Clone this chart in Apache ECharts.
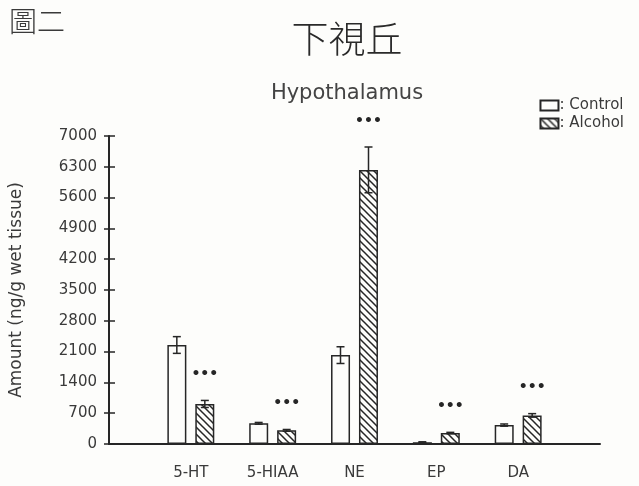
<!DOCTYPE html>
<html>
<head>
<meta charset="utf-8">
<script src="https://cdn.jsdelivr.net/npm/echarts@6/dist/echarts.min.js"></script>
<style>
  html, body { margin: 0; padding: 0; background: #fdfdfb; }
  #chart { width: 639px; height: 486px; }
</style>
</head>
<body>
<div id="chart"></div>
<script>
// Monoamine levels in the hypothalamus (ng/g wet tissue), mean ± SE
const categories = ['5-HT', '5-HIAA', 'NE', 'EP', 'DA'];
const controlMean = [2250, 470, 2020, 40, 430];
const controlSE = [190, 20, 190, 10, 25];
const alcoholMean = [910, 310, 6230, 250, 650];
const alcoholSE = [80, 20, 520, 15, 40];
const significance = ['***', '***', '***', '***', '***'];
const yTicks = [0, 700, 1400, 2100, 2800, 3500, 4200, 4900, 5600, 6300, 7000];

const INK = '#262626';
const TEXT = '#3a3a3a';
const BAR_W = 19;
const BAR_OFFSET = 14;

// diagonal hatch for the alcohol bars
function makeHatch() {
  const s = 7;
  const c = document.createElement('canvas');
  c.width = s; c.height = s;
  const g = c.getContext('2d');
  g.strokeStyle = INK;
  g.lineWidth = 1.5;
  g.beginPath();
  for (const o of [-s, 0, s]) {
    g.moveTo(o - 1, -1);
    g.lineTo(o + s + 1, s + 1);
  }
  g.stroke();
  return c;
}
const hatch = { image: makeHatch(), repeat: 'repeat' };

// pad the category axis with one empty slot on each side
const axisCats = [''].concat(categories, ['']);
const pad = arr => [null].concat(arr, [null]);

function errorBars(means, ses, offset) {
  return {
    type: 'custom',
    z: 5,
    silent: true,
    data: means.map((m, i) => [i + 1, m - ses[i], m + ses[i]]),
    renderItem: function (params, api) {
      const lo = api.coord([api.value(0), api.value(1)]);
      const hi = api.coord([api.value(0), api.value(2)]);
      const x = lo[0] + offset;
      const cap = 4;
      const st = { stroke: INK, lineWidth: 1.5 };
      return {
        type: 'group',
        children: [
          { type: 'line', shape: { x1: x, y1: lo[1], x2: x, y2: hi[1] }, style: st },
          { type: 'line', shape: { x1: x - cap, y1: hi[1], x2: x + cap, y2: hi[1] }, style: st },
          { type: 'line', shape: { x1: x - cap, y1: lo[1], x2: x + cap, y2: lo[1] }, style: st }
        ]
      };
    }
  };
}

function starLabels(means, ses, offset) {
  return {
    type: 'custom',
    z: 6,
    silent: true,
    data: means.map((m, i) => [i + 1, m + ses[i]]),
    renderItem: function (params, api) {
      const p = api.coord([api.value(0), api.value(1)]);
      return {
        type: 'text',
        x: p[0] + offset,
        y: p[1] - 26,
        style: {
          text: significance[params.dataIndex].replace(/\*/g, '\u2022'),
          fill: INK,
          font: 'bold 14px "DejaVu Sans"',
          align: 'center',
          verticalAlign: 'middle'
        }
      };
    }
  };
}

const chart = echarts.init(document.getElementById('chart'), null, { renderer: 'canvas' });

chart.setOption({
  backgroundColor: '#fdfdfb',
  animation: false,
  textStyle: { fontFamily: 'DejaVu Sans', color: TEXT },
  graphic: [
    { type: 'text', left: 9, top: 7,
      style: { text: '圖二', font: '300 28px "Noto Sans CJK TC"', fill: TEXT } },
    { type: 'text', x: 347, y: 39,
      style: { text: '下視丘', font: '300 37px "Noto Sans CJK TC"', fill: '#2a2a2a', align: 'center', verticalAlign: 'middle' } },
    { type: 'text', x: 347, y: 94,
      style: { text: 'Hypothalamus', font: '21px "DejaVu Sans"', fill: '#444', align: 'center', verticalAlign: 'middle' } }
  ],
  legend: {
    right: 10,
    top: 93,
    orient: 'vertical',
    itemWidth: 18,
    itemHeight: 10,
    itemGap: 3,
    icon: 'rect',
    formatter: ': {name}',
    textStyle: { fontSize: 15, color: TEXT, padding: [0, 0, 0, -4] },
    data: ['Control', 'Alcohol']
  },
  grid: { left: 108, right: 39, top: 136, bottom: 42 },
  xAxis: {
    type: 'category',
    data: axisCats,
    boundaryGap: false,
    axisLine: { lineStyle: { color: INK, width: 2 } },
    axisTick: { show: false },
    axisLabel: { fontSize: 15, color: TEXT, margin: 22 },
    splitLine: { show: false }
  },
  yAxis: [{
    type: 'value',
    min: 0,
    max: 7000,
    interval: 700,
    name: 'Amount (ng/g wet tissue)',
    nameLocation: 'middle',
    nameGap: 84,
    nameTextStyle: { fontSize: 17, color: TEXT },
    axisLine: { show: true, lineStyle: { color: INK, width: 2 } },
    axisTick: { show: true, length: 5, lineStyle: { color: INK, width: 1.5 } },
    axisLabel: { fontSize: 15, color: TEXT, margin: 12,
      formatter: v => (yTicks.indexOf(v) >= 0 ? String(v) : '') },
    splitLine: { show: false }
  }, {
    // inward half of the crossing tick marks
    type: 'value',
    position: 'left',
    offset: 0,
    min: 0,
    max: 7000,
    interval: 700,
    axisLine: { show: true, lineStyle: { color: 'rgba(0,0,0,0)' } },
    axisTick: { show: true, inside: true, length: 6, lineStyle: { color: INK, width: 1.5 } },
    axisLabel: { show: false },
    splitLine: { show: false }
  }],
  series: [
    {
      name: 'Control',
      type: 'bar',
      data: pad(controlMean),
      barWidth: BAR_W,
      barGap: '47%',
      itemStyle: { color: '#fdfdfb', borderColor: INK, borderWidth: 1.5 }
    },
    {
      name: 'Alcohol',
      type: 'bar',
      data: pad(alcoholMean),
      barWidth: BAR_W,
      barGap: '47%',
      itemStyle: { color: hatch, borderColor: INK, borderWidth: 1.5 }
    },
    errorBars(controlMean, controlSE, -BAR_OFFSET),
    errorBars(alcoholMean, alcoholSE, BAR_OFFSET),
    starLabels(alcoholMean, alcoholSE, BAR_OFFSET)
  ]
});
</script>
</body>
</html>
